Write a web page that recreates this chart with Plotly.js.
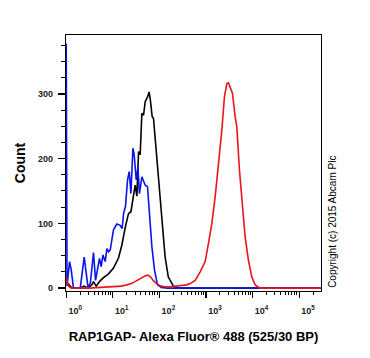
<!DOCTYPE html>
<html>
<head>
<meta charset="utf-8">
<script src="https://cdn.plot.ly/plotly-3.0.1.min.js"></script>
<style>
html,body{margin:0;padding:0;background:#fff;}
#chart{width:370px;height:358px;}
</style>
</head>
<body>
<div id="chart"></div>
<script>
// Fluorescence intensity (x) and event counts (y) for the three histograms
var blackX = [1.0, 1.1, 1.32, 2.0, 2.43, 2.9, 3.55, 3.85, 4.4, 5.18, 6.3, 8.09, 10.35, 13.2, 15.7, 18.4, 21.7, 24.5, 27.0, 30.2, 32.9, 35.7, 38.7, 42.1, 45.7, 49.6, 55.5, 60.1, 64.2, 69.9, 74.8, 83.9, 95.7, 112.8, 132.8, 155.6, 200, 258, 1000, 10000, 290000];
var blackY = [10, 7, 0, 0, 3, 0, 5, 10, 3, 10, 16, 22, 31, 46, 67, 93, 115, 118, 136, 159, 142, 211, 206, 270, 267, 288, 295, 303, 290, 265, 262, 218, 167, 105, 48, 17, 3, 0, 0, 0, 0];

var blueX = [1.0, 1.04, 1.18, 1.28, 1.43, 2.0, 2.43, 2.78, 2.95, 3.3, 3.85, 4.26, 4.69, 5.18, 5.63, 6.13, 6.87, 7.46, 8.09, 8.8, 10.35, 12.2, 14.4, 15.9, 17.0, 18.7, 20.7, 22.5, 24.5, 27.0, 28.8, 31.8, 34.6, 37.3, 42.1, 49.6, 55.5, 61.2, 69.0, 78.5, 91.0, 110, 150, 1000, 10000, 290000];
var blueY = [378, 3, 41, 28, 0, 0, 48, 8, 0, 8, 55, 12, 28, 46, 33, 51, 41, 61, 56, 59, 90, 99, 97, 92, 115, 126, 167, 180, 146, 216, 206, 167, 187, 146, 172, 159, 157, 115, 64, 28, 5, 1, 0, 0, 0, 0];

var redX = [1.0, 1.05, 1.15, 1.3, 3, 7, 10, 15, 20, 25, 30, 35, 42, 50, 57, 65, 75, 90, 110, 130, 170, 220, 280, 389, 458, 540, 587, 751, 961, 1132, 1339, 1575, 1855, 2194, 2495, 2808, 3040, 3305, 3705, 4234, 4603, 5236, 5894, 6937, 8165, 9661, 11370, 14550, 50000, 290000];
var redY = [16, 8, 2, 0, 0, 1, 2, 3, 5, 7, 10, 13, 16, 19, 20, 17, 11, 6, 3, 2, 2, 3, 4, 5, 7, 10, 12, 25, 41, 69, 100, 141, 187, 244, 296, 316, 317, 309, 301, 265, 249, 182, 136, 79, 43, 17, 5, 0, 0, 0];

var yTickVals = [0, 100, 200, 300];
var xTickExps = [0, 1, 2, 3, 4, 5];
var xTitle = 'RAP1GAP- Alexa Fluor® 488 (525/30 BP)';
var yTitle = 'Count';
var copyright = 'Copyright (c) 2015 Abcam Plc';

function line(x, y, color) {
  return {x: x, y: y, type: 'scatter', mode: 'lines',
          line: {color: color, width: 1.6, shape: 'linear'},
          hoverinfo: 'skip', showlegend: false};
}

var data = [
  line(blackX, blackY, '#000000'),
  line(blueX, blueY, '#0a14e6'),
  line(redX, redY, '#e8161c')
];

var tickFont = {family: 'Liberation Sans, Arial, sans-serif', size: 9, color: '#222', weight: 'bold'};

var layout = {
  width: 370, height: 358,
  margin: {l: 66, r: 49, t: 35, b: 67},
  paper_bgcolor: '#fff', plot_bgcolor: '#fff',
  showlegend: false,
  xaxis: {
    type: 'log', range: [-0.005, 5.47],
    showgrid: false, zeroline: false,
    showline: true, linecolor: '#000', linewidth: 1.2, mirror: true,
    ticks: 'outside', ticklen: 6, tickwidth: 1.2, tickcolor: '#000',
    tickmode: 'array',
    tickvals: xTickExps.map(function (e) { return Math.pow(10, e); }),
    ticktext: xTickExps.map(function (e) { return '10<sup>' + e + '</sup>'; }),
    tickfont: tickFont, ticklabelshift: 9, ticklabelstandoff: 5,
    minor: {ticks: 'outside', ticklen: 3, tickwidth: 1, tickcolor: '#000', showgrid: false, dtick: 'D1'},
    title: {text: xTitle, font: {family: 'Liberation Sans, Arial, sans-serif', size: 13, color: '#000', weight: 'bold'}, standoff: 16}
  },
  yaxis: {
    range: [-4.5, 391],
    showgrid: false, zeroline: false,
    showline: true, linecolor: '#000', linewidth: 1.2, mirror: true,
    ticks: 'outside', ticklen: 7, tickwidth: 1.2, tickcolor: '#000',
    tickvals: yTickVals, ticktext: yTickVals.map(String),
    tickfont: tickFont, ticklabelstandoff: 3,
    minor: {ticks: 'outside', ticklen: 4, tickwidth: 1, tickcolor: '#000', dtick: 25, tick0: 0, showgrid: false},
    title: {text: yTitle, font: {family: 'Liberation Sans, Arial, sans-serif', size: 14, color: '#000', weight: 'bold'}, standoff: 9}
  },
  annotations: [{
    text: copyright, xref: 'paper', yref: 'paper',
    x: 1.047, y: 0.27, xanchor: 'center', yanchor: 'middle',
    textangle: -90, showarrow: false,
    font: {family: 'Liberation Sans, Arial, sans-serif', size: 10, color: '#000'}
  }]
};

Plotly.newPlot('chart', data, layout, {staticPlot: true, displayModeBar: false});
</script>
</body>
</html>
